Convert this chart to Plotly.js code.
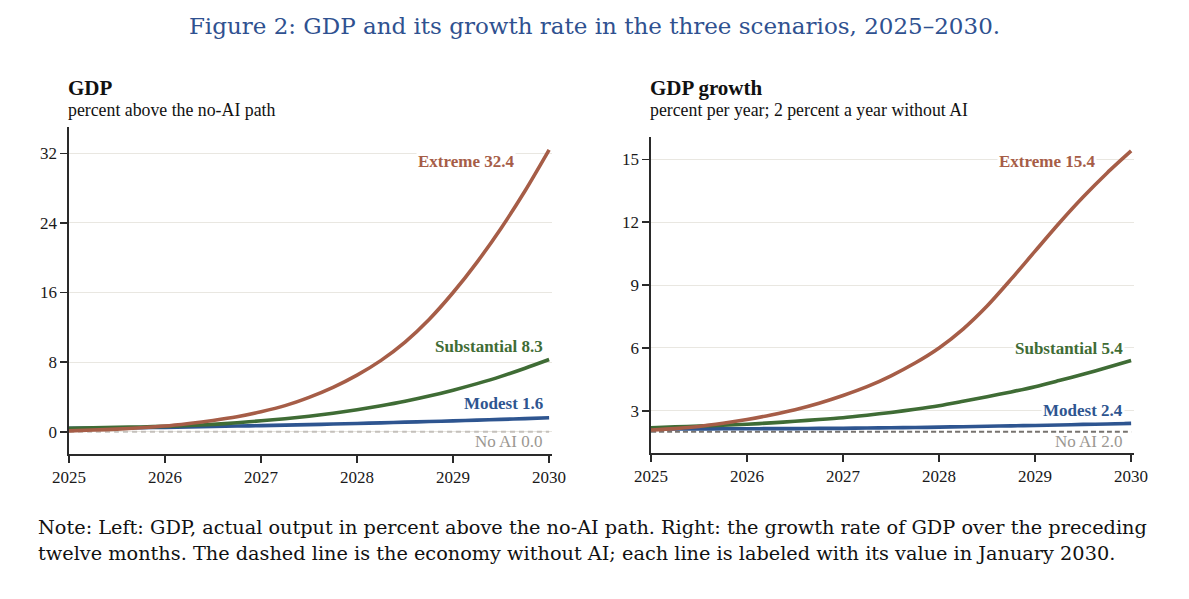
<!DOCTYPE html>
<html>
<head>
<meta charset="utf-8">
<script src="https://cdn.plot.ly/plotly-3.0.1.min.js"></script>
<style>
html,body{margin:0;padding:0;background:#fff;}
#chart{width:1189px;height:599px;}
</style>
</head>
<body>
<div id="chart"></div>
<script>
// ---- Data ----
const years = [2025, 2025.25, 2025.5, 2025.75, 2026, 2026.25, 2026.5, 2026.75, 2027, 2027.25, 2027.5, 2027.75,
               2028, 2028.25, 2028.5, 2028.75, 2029, 2029.25, 2029.5, 2029.75, 2030];

// Left panel: GDP, percent above the no-AI path
const gdpExtreme     = [0.1, 0.2, 0.3, 0.45, 0.65, 0.95, 1.3, 1.72, 2.3, 3.0, 3.95, 5.1, 6.5, 8.2, 10.3, 12.9, 16.0, 19.5, 23.4, 27.7, 32.4];
const gdpSubstantial = [0.4, 0.45, 0.5, 0.55, 0.62, 0.72, 0.85, 1.03, 1.26, 1.5, 1.78, 2.12, 2.52, 2.98, 3.5, 4.1, 4.78, 5.53, 6.36, 7.3, 8.3];
const gdpModest      = [0.4, 0.42, 0.45, 0.47, 0.5, 0.55, 0.6, 0.65, 0.7, 0.76, 0.82, 0.88, 0.95, 1.02, 1.1, 1.17, 1.25, 1.33, 1.42, 1.51, 1.6];
const gdpNoAI        = [0, 0, 0, 0, 0, 0, 0, 0, 0, 0, 0, 0, 0, 0, 0, 0, 0, 0, 0, 0, 0];

// Right panel: GDP growth, percent per year
const grExtreme     = [2.08, 2.15, 2.25, 2.4, 2.58, 2.8, 3.05, 3.36, 3.73, 4.15, 4.67, 5.28, 6.0, 6.9, 8.0, 9.28, 10.62, 11.95, 13.2, 14.35, 15.4];
const grSubstantial = [2.19, 2.23, 2.27, 2.31, 2.36, 2.42, 2.5, 2.58, 2.67, 2.79, 2.92, 3.07, 3.24, 3.45, 3.67, 3.9, 4.15, 4.44, 4.74, 5.06, 5.4];
const grModest      = [2.13, 2.13, 2.13, 2.14, 2.14, 2.15, 2.15, 2.16, 2.16, 2.18, 2.19, 2.2, 2.22, 2.24, 2.26, 2.28, 2.3, 2.32, 2.35, 2.37, 2.4];
const grNoAI        = [2, 2, 2, 2, 2, 2, 2, 2, 2, 2, 2, 2, 2, 2, 2, 2, 2, 2, 2, 2, 2];

const xTicks = [2025, 2026, 2027, 2028, 2029, 2030];
const leftYTicks = [0, 8, 16, 24, 32];
const rightYTicks = [3, 6, 9, 12, 15];

const labelsLeft = [
  {text: 'Extreme 32.4', y: 31.1, color: '#a65d47', x: 2029.66},
  {text: 'Substantial 8.3', y: 9.85, color: '#3f6c35', x: 2029.96},
  {text: 'Modest 1.6', y: 3.2, color: '#2e5590', x: 2029.96},
  {text: 'No AI 0.0', y: -1.1, color: '#9b9792', x: 2029.96, bold: false}
];
const labelsRight = [
  {text: 'Extreme 15.4', y: 14.92, color: '#a65d47', x: 2029.64},
  {text: 'Substantial 5.4', y: 5.99, color: '#3f6c35', x: 2029.94},
  {text: 'Modest 2.4', y: 3.03, color: '#2e5590', x: 2029.94},
  {text: 'No AI 2.0', y: 1.54, color: '#9b9792', x: 2029.94, bold: false}
];

// ---- Styles ----
const C_EXT = '#a65d47', C_SUB = '#3f6c35', C_MOD = '#2e5590';
const serif = '"Liberation Serif"';
const W = 3.6;

function line(x, y, color, xa, ya, width, dash) {
  return {x: x, y: y, xaxis: xa, yaxis: ya, type: 'scatter', mode: 'lines',
    line: {color: color, width: width || W, shape: 'spline', smoothing: 0.8, dash: dash || 'solid'},
    hoverinfo: 'skip', showlegend: false};
}

const traces = [
  line(years, gdpNoAI, '#c4c0bb', 'x', 'y', 2, '5px,4px'),
  line(years, gdpModest, C_MOD, 'x', 'y'),
  line(years, gdpSubstantial, C_SUB, 'x', 'y'),
  line(years, gdpExtreme, C_EXT, 'x', 'y'),
  line(years, grNoAI, '#77736f', 'x2', 'y2', 2, '5px,3px'),
  line(years, grModest, C_MOD, 'x2', 'y2'),
  line(years, grSubstantial, C_SUB, 'x2', 'y2'),
  line(years, grExtreme, C_EXT, 'x2', 'y2')
];

function xaxisDef(domain, anchor) {
  return {domain: domain, anchor: anchor, range: [2025, 2030.03], tickvals: xTicks,
    ticktext: xTicks.map(String), showgrid: false, zeroline: false, showline: true,
    linecolor: '#2a2a2a', linewidth: 1.6, ticks: 'outside', ticklen: 7, tickwidth: 1.6,
    tickcolor: '#2a2a2a', tickfont: {family: serif, size: 17, color: '#1a1a1a'}, fixedrange: true};
}
function yaxisDef(domain, anchor, range, ticks) {
  return {domain: domain, anchor: anchor, range: range, tickvals: ticks,
    ticktext: ticks.map(String), showgrid: true, gridcolor: '#e9e7e1', gridwidth: 1,
    zeroline: false, showline: true, linecolor: '#2a2a2a', linewidth: 1.6,
    ticks: 'outside', ticklen: 7, tickwidth: 1.6, tickcolor: '#2a2a2a',
    tickfont: {family: serif, size: 17, color: '#1a1a1a'}, fixedrange: true};
}

const annotations = [];
function addLabels(list, xref, yref) {
  list.forEach(l => {
    const a = {x: l.x, y: l.y, xref: xref, yref: yref, xanchor: 'right', yanchor: 'middle',
      text: l.bold === false ? l.text : '<b>' + l.text + '</b>', showarrow: false,
      font: {family: serif, size: 17, color: l.color}};
    if (l.bold !== false) { a.bgcolor = '#ffffff'; a.borderpad = 1; }
    annotations.push(a);
  });
}
addLabels(labelsLeft, 'x', 'y');
addLabels(labelsRight, 'x2', 'y2');

function paperText(text, xpx, ypx, size, color, family, anchor) {
  annotations.push({x: xpx / 1189, y: 1 - ypx / 599, xref: 'paper', yref: 'paper',
    xanchor: anchor || 'left', yanchor: 'middle', text: text, showarrow: false,
    font: {family: family || serif, size: size, color: color || '#111'}});
}
paperText('<b>GDP</b>', 66, 88, 21);
paperText('percent above the no-AI path', 66, 110, 17.8);
paperText('<b>GDP growth</b>', 648, 88, 21);
paperText('percent per year; 2 percent a year without AI', 648, 110, 17.8);
paperText('Note: Left: GDP, actual output in percent above the no-AI path. Right: the growth rate of GDP over the preceding', 36, 527, 19.3, '#111', 'DejaVu Serif');
paperText('twelve months. The dashed line is the economy without AI; each line is labeled with its value in January 2030.', 36, 553, 19.3, '#111', 'DejaVu Serif');

const layout = {
  width: 1189, height: 599,
  margin: {l: 0, r: 0, t: 0, b: 0},
  paper_bgcolor: '#ffffff', plot_bgcolor: '#ffffff',
  title: {text: 'Figure 2: GDP and its growth rate in the three scenarios, 2025–2030.',
    x: 0.5, xanchor: 'center', y: 1 - 26 / 599, yanchor: 'middle',
    font: {family: 'DejaVu Serif', size: 23, color: '#2f5190'}},
  xaxis: xaxisDef([69 / 1189, 552 / 1189], 'y'),
  yaxis: yaxisDef([(599 - 454) / 599, (599 - 126.7) / 599], 'x', [-2.56, 35.06], leftYTicks),
  xaxis2: xaxisDef([651 / 1189, 1134 / 1189], 'y2'),
  yaxis2: yaxisDef([(599 - 453.3) / 599, (599 - 136.7) / 599], 'x2', [0.97, 16.08], rightYTicks),
  annotations: annotations,
  showlegend: false
};

Plotly.newPlot('chart', traces, layout, {displayModeBar: false, staticPlot: true});
</script>
</body>
</html>
